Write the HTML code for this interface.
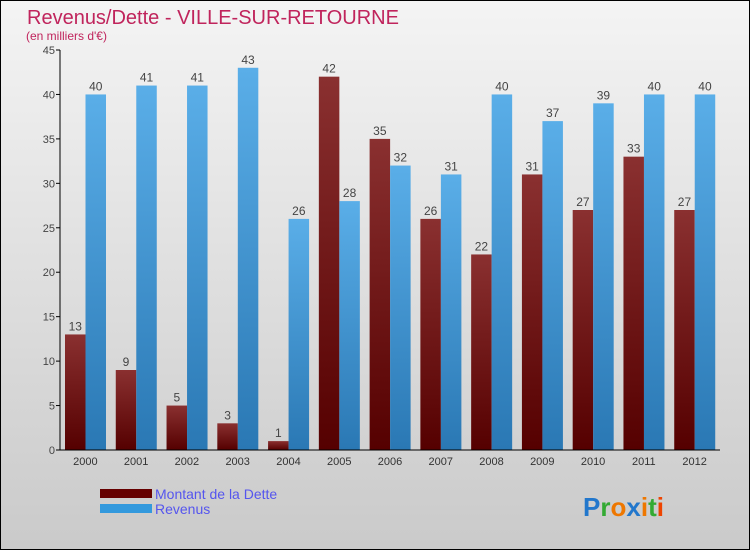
<!DOCTYPE html>
<html><head><meta charset="utf-8"><style>
html,body{margin:0;padding:0}
body{width:750px;height:550px;overflow:hidden;font-family:"Liberation Sans",sans-serif}
</style></head><body>
<svg width="750" height="550" xmlns="http://www.w3.org/2000/svg">
<defs>
<linearGradient id="bg" x1="0" y1="0" x2="0" y2="1"><stop offset="0" stop-color="#f4f4f4"/><stop offset="1" stop-color="#cacaca"/></linearGradient>
<linearGradient id="gd" x1="0" y1="0" x2="0" y2="1"><stop offset="0" stop-color="#8a3030"/><stop offset="1" stop-color="#550000"/></linearGradient>
<linearGradient id="gr" x1="0" y1="0" x2="0" y2="1"><stop offset="0" stop-color="#5aaee8"/><stop offset="1" stop-color="#2a78b4"/></linearGradient>
</defs>
<rect x="0.5" y="0.5" width="749" height="549" fill="url(#bg)" stroke="#000"/>
<text x="27" y="24" font-size="20" fill="#c0245c">Revenus/Dette - VILLE-SUR-RETOURNE</text>
<text x="26" y="40" font-size="12" fill="#c0245c">(en milliers d'€)</text>
<g id="plot"></g>
<g>
<rect x="100" y="489" width="52" height="9" fill="#660000"/>
<text x="155" y="499" font-size="14" fill="#5555ee">Montant de la Dette</text>
<rect x="100" y="504" width="52" height="9" fill="#3399dd"/>
<text x="155" y="514" font-size="14" fill="#5555ee">Revenus</text>
</g>
<text x="583" y="516" font-size="26" font-weight="bold"><tspan fill="#2277cc">P</tspan><tspan fill="#33aa33">r</tspan><tspan fill="#ee7700">o</tspan><tspan fill="#2277cc">x</tspan><tspan fill="#ee7700">i</tspan><tspan fill="#33aa33">t</tspan><tspan fill="#ee4400">i</tspan></text>
</svg>
<script>
const years=["2000","2001","2002","2003","2004","2005","2006","2007","2008","2009","2010","2011","2012"];
const dette=[13,9,5,3,1,42,35,26,22,31,27,33,27];
const revenus=[40,41,41,43,26,28,32,31,40,37,39,40,40];
const yTicks=[0,5,10,15,20,25,30,35,40,45];
const NS="http://www.w3.org/2000/svg";
const g=document.getElementById('plot');
const x0=60,x1=720,y0=450,yTop=50,yMax=45;
const gw=(x1-x0)/years.length;
const y=v=>y0-v/yMax*(y0-yTop);
function mk(t,a,parent){const e=document.createElementNS(NS,t);for(const k in a)e.setAttribute(k,a[k]);(parent||g).appendChild(e);return e;}
yTicks.forEach(v=>{
 const l=mk('line',{x1:x0-4,x2:x0,y1:y(v),y2:y(v),stroke:'#000'});
 
 
 const t=mk('text',{x:x0-5,y:y(v)+4,'font-size':11,fill:'#444','text-anchor':'end'});
 t.textContent=v;
 
 
});
years.forEach((yr,i)=>{
 const gx=x0+i*gw;
 const bw=20.5;
 const bd=mk('rect',{x:gx+5,y:y(dette[i]),width:bw,height:y0-y(dette[i]),fill:'url(#gd)'});
 
 
 const br=mk('rect',{x:gx+5+bw,y:y(revenus[i]),width:bw,height:y0-y(revenus[i]),fill:'url(#gr)'});
 
 
 const td=mk('text',{x:gx+5+bw/2,y:y(dette[i])-4,'font-size':12,fill:'#444','text-anchor':'middle'});
 td.textContent=dette[i];
 
 
 const tr=mk('text',{x:gx+5+bw*1.5,y:y(revenus[i])-4,'font-size':12,fill:'#444','text-anchor':'middle'});
 tr.textContent=revenus[i];
 
 
 const tx=mk('text',{x:gx+gw/2,y:y0+15,'font-size':11,fill:'#333','text-anchor':'middle'});
 tx.textContent=yr;
 
 
});
const ya=mk('line',{x1:x0,x2:x0,y1:yTop,y2:y0,stroke:'#000'});


const xa=mk('line',{x1:x0,x2:x1,y1:y0,y2:y0,stroke:'#000'});


</script>
</body></html>
